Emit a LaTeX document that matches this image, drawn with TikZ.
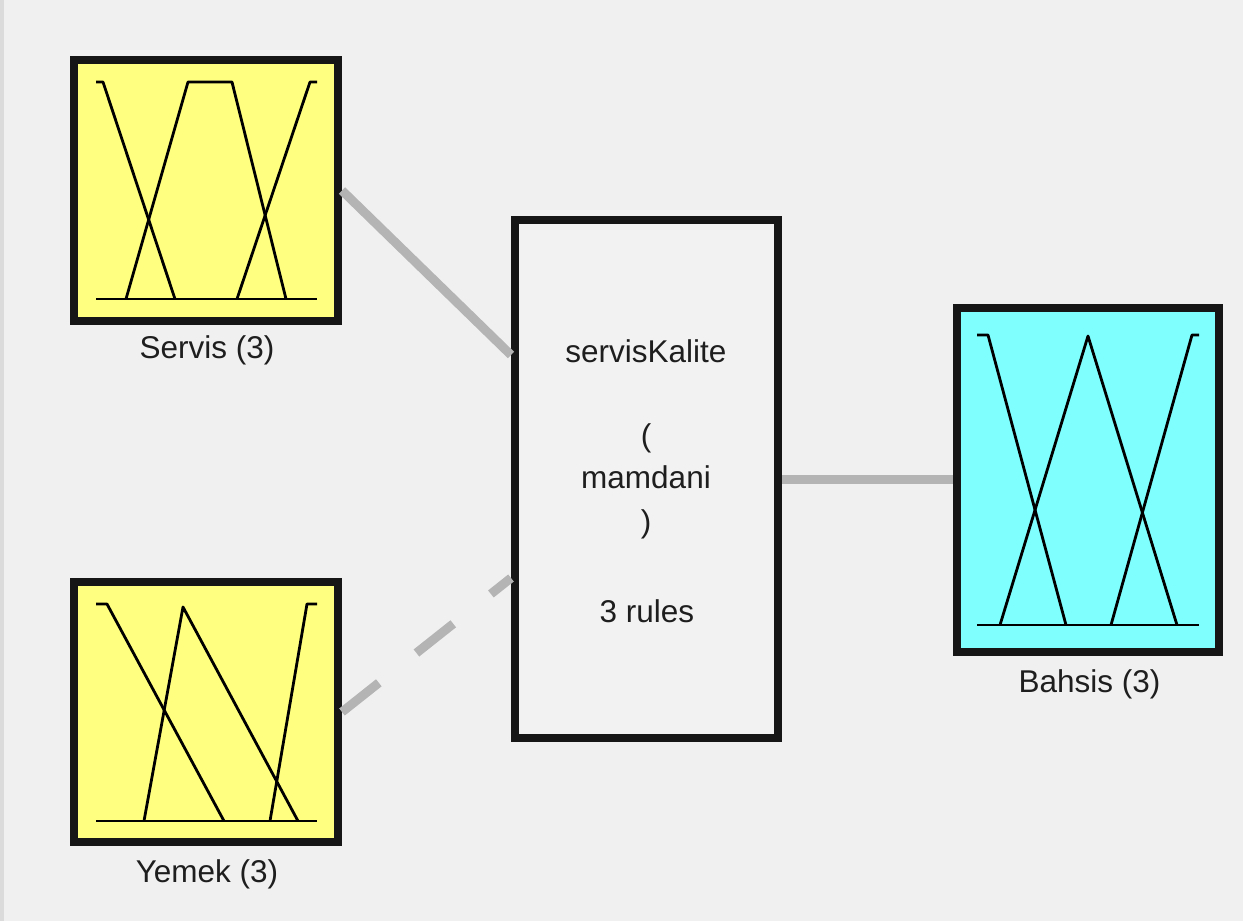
\documentclass[tikz,border=0pt]{standalone}
\usepackage{fontspec}
\setmainfont{Liberation Sans}
\definecolor{bg}{HTML}{F0F0F0}
\definecolor{inbg}{HTML}{F2F2F2}
\definecolor{yel}{HTML}{FFFF80}
\definecolor{cya}{HTML}{80FFFF}
\definecolor{edge}{HTML}{161616}
\definecolor{conn}{HTML}{B4B4B4}
\definecolor{txt}{HTML}{1E1E1E}
\tikzset{
  varbox/.style={draw=edge, line width=8pt, inner sep=0pt, outer sep=4pt},
  inbox/.style={varbox, fill=yel},
  outbox/.style={varbox, fill=cya},
  fisbox/.style={varbox, fill=inbg},
  lbl/.style={anchor=base, inner sep=0pt, text=txt, font=\fontsize{31.5}{36}\selectfont},
  mf/.style={line width=2.8pt, black, line join=round},
  wire/.style={draw=conn, line width=9pt},
  dwire/.style={wire, dash pattern=on 47pt off 48pt}
}
\begin{document}
\begin{tikzpicture}[x=1pt, y=-1pt]
\fill[bg] (0,0) rectangle (1243,921);
\fill[black!14] (0,0) rectangle (3.5,921);
\useasboundingbox (0,0) rectangle (1243,921);

% boxes
\node[inbox, minimum width=264pt, minimum height=261pt] (servis) at (206,190.5) {};
\node[inbox, minimum width=264pt, minimum height=260pt] (yemek) at (206,712) {};
\node[fisbox, minimum width=263pt, minimum height=518pt] (fis) at (646.5,479) {};
\node[outbox, minimum width=262pt, minimum height=344pt] (bahsis) at (1088,480) {};

% connectors
\coordinate (fisA) at ([yshift=124pt]fis.west);
\coordinate (fisB) at ([yshift=-99pt]fis.west);
\draw[wire] (servis.east) -- (fisA);
\draw[dwire] (yemek.east) -- (fisB);
\draw[wire] (fis.east) -- (fis.east -| bahsis.west);

% membership functions: Servis
\draw[mf] (96,299) -- (317,299);
\draw[mf] (96,82) -- (103,82) -- (175,299);
\draw[mf] (126,299) -- (188,82) -- (232,82) -- (286,299);
\draw[mf] (237,299) -- (310,82) -- (317,82);

% membership functions: Yemek
\draw[mf] (96,821) -- (317,821);
\draw[mf] (96,604) -- (107,604) -- (224,821);
\draw[mf] (144,821) -- (183,607) -- (298,821);
\draw[mf] (270,821) -- (307,604) -- (317,604);

% membership functions: Bahsis
\draw[mf] (977,625) -- (1199,625);
\draw[mf] (977,335) -- (988,335) -- (1066,625);
\draw[mf] (1000,625) -- (1088,336) -- (1177,625);
\draw[mf] (1111,625) -- (1192,335) -- (1199,335);

% labels
\node[lbl] (lservis) at (207,358) {Servis (3)};
\node[lbl] (lyemek) at (207,882) {Yemek (3)};
\node[lbl] (lbahsis) at (1089.5,692) {Bahsis (3)};

\node[lbl] (t1) at (646,362) {servisKalite};
\node[lbl] (t2) at (646,446) {(};
\node[lbl] (t3) at (646,488) {mamdani};
\node[lbl] (t4) at (646,532) {)};
\node[lbl] (t5) at (647,622) {3 rules};
\end{tikzpicture}
\end{document}
